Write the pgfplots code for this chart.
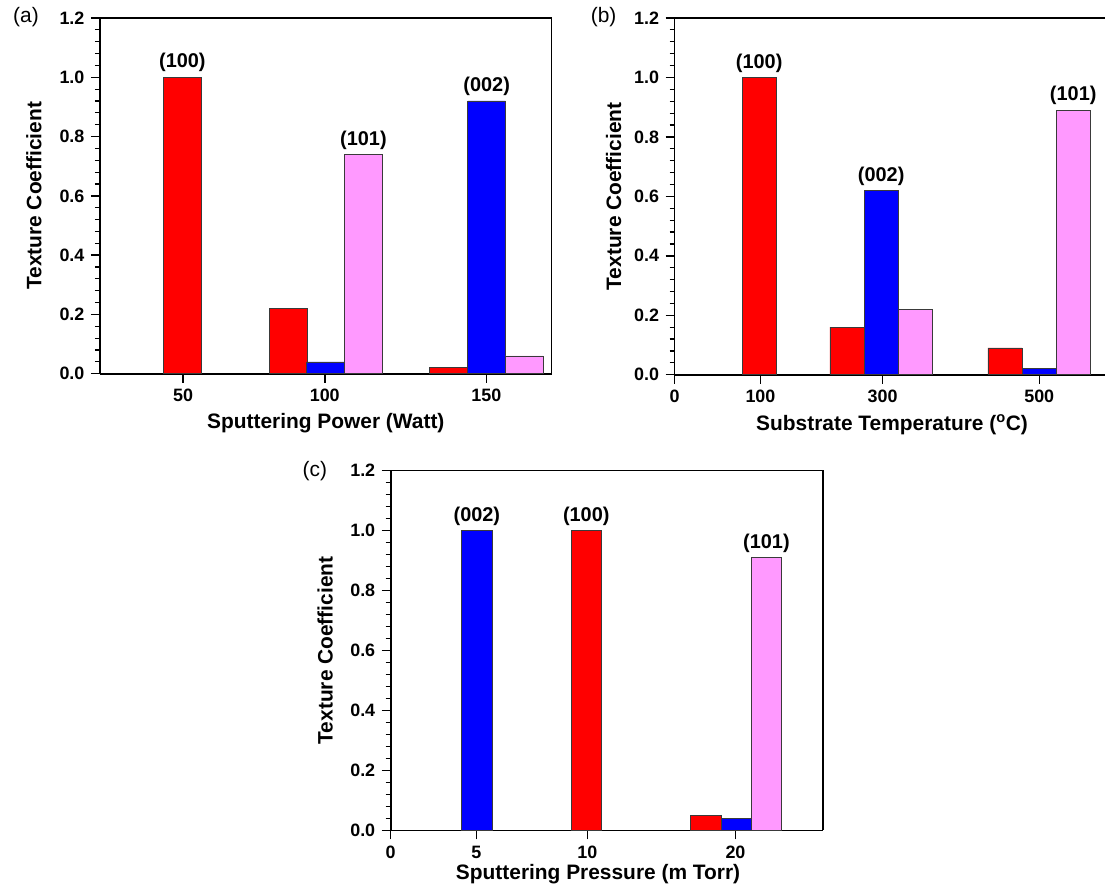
\documentclass[border=0pt]{standalone}
\usepackage{fontspec}
\setmainfont{Liberation Sans}
\usepackage{pgfplots}
\pgfplotsset{compat=1.18}

\definecolor{tcred}{HTML}{FF0000}
\definecolor{tcblue}{HTML}{0000FF}
\definecolor{tcpink}{HTML}{FF99FF}
\definecolor{edge}{HTML}{3A3A3A}

% common look of the three panels; x runs in bp from the left axis line
\pgfplotsset{
  tcpanel/.style={
    scale only axis, anchor=south west, clip=false,
    axis x line=box, axis y line=left,
    axis line style={line width=1.6bp, -},
    ymin=0, ymax=1.2, ytick={0,0.2,0.4,0.6,0.8,1.0,1.2},
    minor y tick num=4,
    tick align=outside, xtick pos=bottom, ytick pos=left,
    major tick length=9bp, minor tick length=5bp,
    major tick style={black, line width=1.5bp},
    minor tick style={black, line width=1.2bp},
    /pgf/number format/assume math mode=true,
    ticklabel style={font=\fontsize{18}{20}\selectfont\bfseries},
    xticklabel style={yshift=-3bp},
    yticklabel style={xshift=-3bp,
      /pgf/number format/.cd, fixed, fixed zerofill, precision=1},
    ylabel={Texture Coefficient},
    every axis plot/.append style={ybar, bar shift=0pt, draw=edge, line width=0.7bp},
  },
  tclabels/.style 2 args={
    xlabel style={font=\fontsize{21}{24}\selectfont\bfseries,
      at={(axis description cs:#1)}, anchor=center},
    ylabel style={font=\fontsize{21}{24}\selectfont\bfseries,
      at={(axis description cs:#2,0.5)}, anchor=center, rotate=0},
  },
}
\tikzset{anno/.style={anchor=south, inner sep=0pt, yshift=5bp,
    font=\fontsize{20}{22}\selectfont\bfseries}}

\begin{document}
\begin{tikzpicture}

% (a) sputtering power
\begin{axis}[tcpanel, at={(100bp,-374bp)}, width=452bp, height=356bp,
  xmin=0, xmax=452, bar width=37.7,
  xtick={83.3,225,386.7}, xticklabels={50,100,150},
  xlabel={Sputtering Power (Watt)}, tclabels={0.5,-0.14}{-0.146}]
\addplot[fill=tcred] coordinates {(82.5,1.00) (188.3,0.22) (349,0.02)};
\addplot[fill=tcblue] coordinates {(225.8,0.04) (387,0.92)};
\addplot[fill=tcpink] coordinates {(263.7,0.74) (424.5,0.06)};
\node[anno] at (axis cs:82.5,1.00) {(100)};
\node[anno] at (axis cs:263.7,0.74) {(101)};
\node[anno] at (axis cs:387,0.92) {(002)};
\draw[line width=1.6bp] (rel axis cs:1,0) -- (rel axis cs:1,1);
\end{axis}

% (b) substrate temperature, cut at the page edge: no right frame line
\begin{axis}[tcpanel, at={(675bp,-375bp)}, width=431bp, height=357bp,
  xmin=0, xmax=431, bar width=34,
  xtick={0,86,208.3,365}, xticklabels={0,100,300,500},
  xlabel={Substrate Temperature (\textsuperscript{o}C)},
  tclabels={0.505,-0.14}{-0.1415}]
\addplot[fill=tcred] coordinates {(84.7,1.00) (172.5,0.16) (330.7,0.09)};
\addplot[fill=tcblue] coordinates {(206.8,0.62) (364.8,0.02)};
\addplot[fill=tcpink] coordinates {(241.3,0.22) (399,0.89)};
\node[anno] at (axis cs:84.7,1.00) {(100)};
\node[anno] at (axis cs:206.8,0.62) {(002)};
\node[anno] at (axis cs:399,0.89) {(101)};
\end{axis}

% (c) sputtering pressure
\begin{axis}[tcpanel, at={(391bp,-831bp)}, width=432.3bp, height=360.3bp,
  xmin=0, xmax=432.3, bar width=30.5,
  xtick={0,85.7,196.7,345}, xticklabels={0,5,10,20},
  xlabel={Sputtering Pressure (m Torr)}, tclabels={0.48,-0.122}{-0.1515}]
\addplot[fill=tcred] coordinates {(195.7,1.00) (315.3,0.05)};
\addplot[fill=tcblue] coordinates {(86.2,1.00) (346,0.04)};
\addplot[fill=tcpink] coordinates {(376,0.91)};
\node[anno] at (axis cs:86.2,1.00) {(002)};
\node[anno] at (axis cs:195.7,1.00) {(100)};
\node[anno] at (axis cs:376,0.91) {(101)};
\draw[line width=1.6bp] (rel axis cs:1,0) -- (rel axis cs:1,1);
\end{axis}

\node[font=\fontsize{21}{24}\selectfont] at (26bp,-17bp) {(a)};
\node[font=\fontsize{21}{24}\selectfont] at (604bp,-17bp) {(b)};
\node[font=\fontsize{21}{24}\selectfont] at (315bp,-471bp) {(c)};
\path (0,0) (1106bp,-890bp);
\end{tikzpicture}
\end{document}
